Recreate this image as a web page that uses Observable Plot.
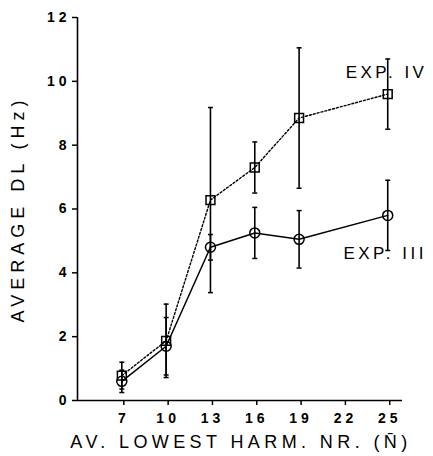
<!DOCTYPE html>
<html><head><meta charset="utf-8">
<script src="https://cdn.jsdelivr.net/npm/d3@7"></script>
<script src="https://cdn.jsdelivr.net/npm/@observablehq/plot@0.6"></script>
<style>
body{margin:0;background:#fff;}
#chart g[aria-label="x-axis tick label"] text,
#chart g[aria-label="y-axis tick label"] text{letter-spacing:4px;}
#chart .series-label text{letter-spacing:3.5px;}
#chart .xtitle text{letter-spacing:4.4px;}
#chart .ytitle text{letter-spacing:5px;}
</style></head><body><div id="chart"></div>
<script>
const harmonics = [7, 10, 13, 16, 19, 25];
const exp4Mean = [0.78, 1.87, 6.28, 7.3, 8.85, 9.6];
const exp4Err  = [0.42, 1.15, 2.9, 0.8, 2.2, 1.1];
const exp3Mean = [0.6, 1.7, 4.8, 5.25, 5.05, 5.8];
const exp3Err  = [0.35, 0.9, 0.4, 0.8, 0.9, 1.1];
const xTicks = [7, 10, 13, 16, 19, 22, 25];
const yTicks = [0, 2, 4, 6, 8, 10, 12];
const seriesLabels = ["EXP. IV", "EXP. III"];
const xTitle = "AV. LOWEST HARM. NR. (N\u0304)";
const yTitle = "AVERAGE DL (Hz)";

const exp4 = harmonics.map((x, i) => ({x, y: exp4Mean[i], lo: exp4Mean[i] - exp4Err[i], hi: exp4Mean[i] + exp4Err[i]}));
const exp3 = harmonics.map((x, i) => ({x, y: exp3Mean[i], lo: exp3Mean[i] - exp3Err[i], hi: exp3Mean[i] + exp3Err[i]}));
const labels = [
  {x: 22.15, y: 10.27, text: seriesLabels[0]},
  {x: 22.0, y: 4.6, text: seriesLabels[1]}
];

const capSymbol = {draw(ctx, size) { const r = Math.sqrt(size / Math.PI); ctx.moveTo(-r, 0); ctx.lineTo(r, 0); }};

function errMarks(data) {
  return [
    Plot.ruleX(data, {x: "x", y1: "lo", y2: "hi", stroke: "#000", strokeWidth: 1.6}),
    Plot.dot(data, {x: "x", y: "lo", symbol: capSymbol, r: 2.5, stroke: "#000", strokeWidth: 1.5}),
    Plot.dot(data, {x: "x", y: "hi", symbol: capSymbol, r: 2.5, stroke: "#000", strokeWidth: 1.5})
  ];
}

const chart = Plot.plot({
  width: 433, height: 456,
  marginLeft: 77, marginTop: 17, marginBottom: 56, marginRight: 31,
  style: {fontFamily: "'Liberation Sans', Arial, sans-serif", background: "#fff", color: "#000"},
  x: {domain: [4, 26]},
  y: {domain: [0, 12]},
  marks: [
    Plot.axisY({ticks: yTicks, tickSize: 5, tickPadding: 2, fontSize: 14, fontWeight: "bold", label: null, strokeWidth: 1.5}),
    Plot.axisX({ticks: xTicks, tickSize: 5, tickPadding: 8, fontSize: 14, fontWeight: "bold", label: null, strokeWidth: 1.5, dx: 2}),
    Plot.ruleY([0], {stroke: "#000", strokeWidth: 1.6}),
    Plot.ruleX([4], {stroke: "#000", strokeWidth: 1.6}),
    ...errMarks(exp4),
    ...errMarks(exp3),
    Plot.line(exp4, {x: "x", y: "y", stroke: "#000", strokeWidth: 1.4, strokeDasharray: "2,2"}),
    Plot.line(exp3, {x: "x", y: "y", stroke: "#000", strokeWidth: 1.5}),
    Plot.dot(exp4, {x: "x", y: "y", symbol: "square", r: 5, stroke: "#000", fill: "none", strokeWidth: 1.5}),
    Plot.dot(exp3, {x: "x", y: "y", symbol: "circle", r: 5, stroke: "#000", fill: "none", strokeWidth: 1.5}),
    Plot.text(labels, {x: "x", y: "y", text: "text", textAnchor: "start", fontSize: 17, fill: "#000", className: "series-label"}),
    Plot.text([xTitle], {frameAnchor: "bottom", textAnchor: "middle", dx: 1, dy: 47, fontSize: 18, fill: "#000", className: "xtitle"}),
    Plot.text([yTitle], {frameAnchor: "left", textAnchor: "middle", dx: -59, dy: 0, rotate: -90, fontSize: 18, fill: "#000", className: "ytitle"})
  ]
});
document.getElementById("chart").appendChild(chart);
</script></body></html>
